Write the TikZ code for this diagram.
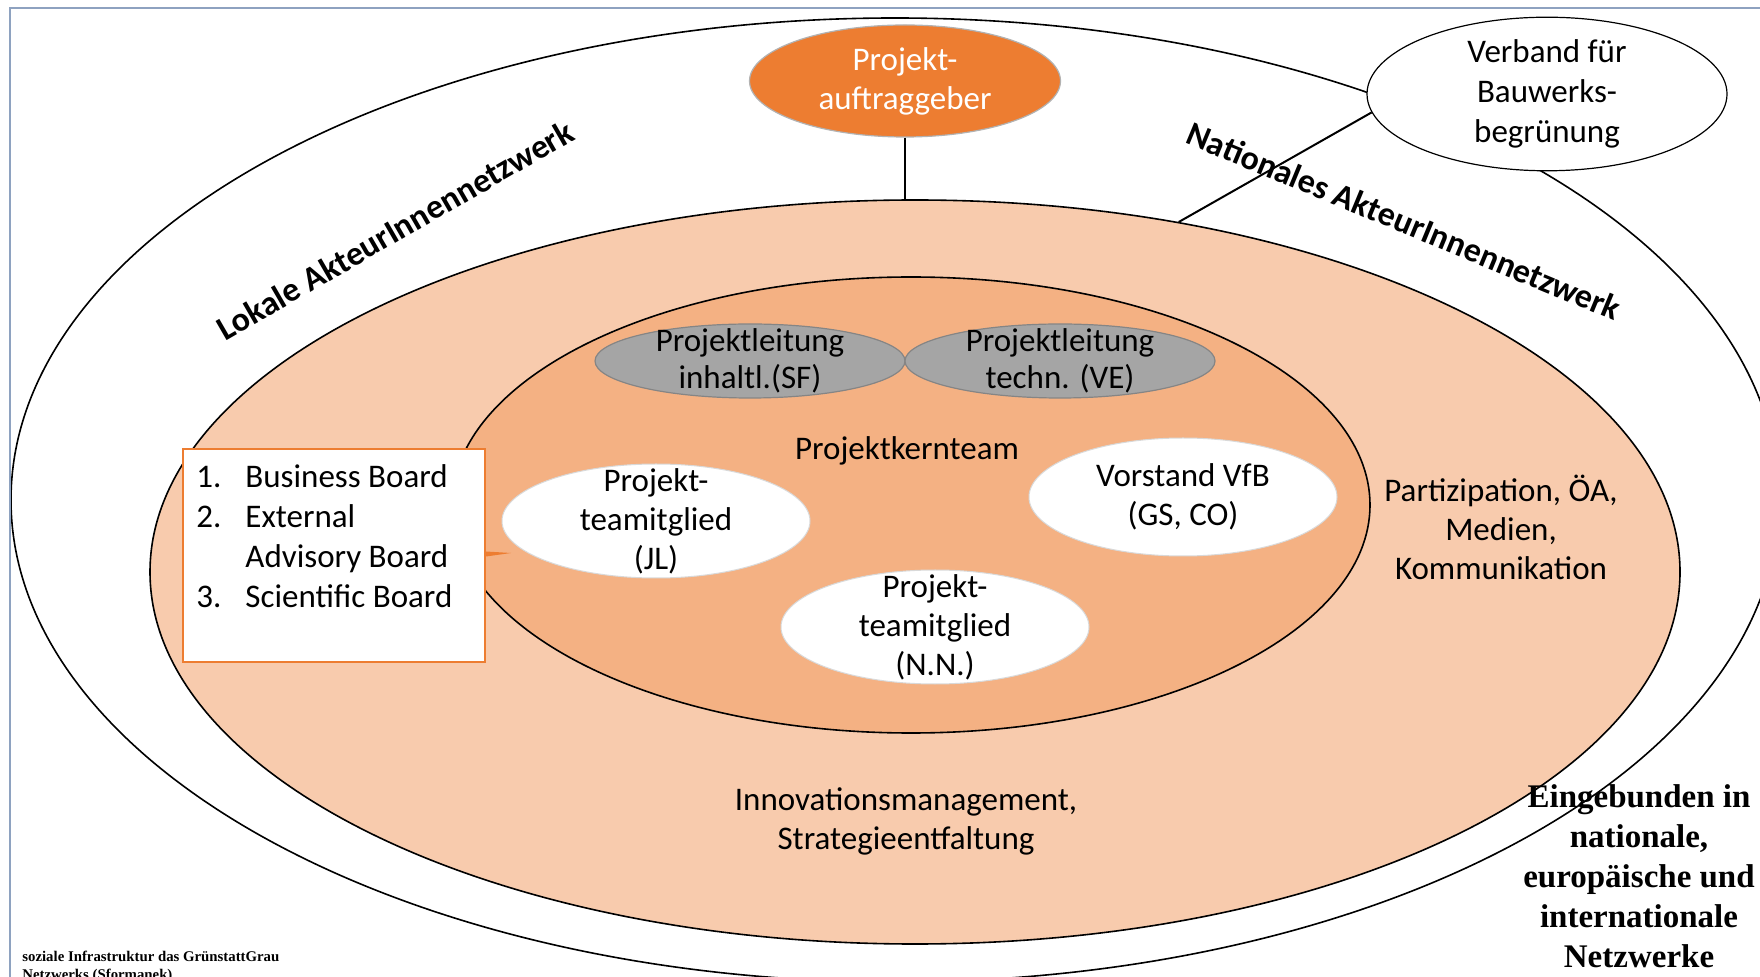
\documentclass[tikz,border=0pt]{standalone}
\usepackage{fontspec}
\setmainfont{Carlito}
\newfontfamily\serifb{Liberation Serif}
\usetikzlibrary{shapes.geometric}
\definecolor{peach}{HTML}{F8CBAD}
\definecolor{apricot}{HTML}{F4B183}
\definecolor{orangeA}{HTML}{ED7D31}
\definecolor{grayN}{HTML}{A5A5A5}
\definecolor{grayB}{HTML}{858585}
\definecolor{frameC}{HTML}{8EA2C0}
\begin{document}
\begin{tikzpicture}[x=0.5pt,y=-0.5pt,
  ring/.style={ellipse, draw=black, line width=0.8pt, inner sep=0pt},
  txt/.style={font=\fontsize{16.5}{19.5}\selectfont, align=center, inner sep=0pt},
  rot/.style={font=\fontsize{17}{20}\selectfont\bfseries, inner sep=0pt},
  grayell/.style={ellipse, fill=grayN, draw=grayB, line width=0.6pt, inner sep=0pt,
    minimum width=155pt, minimum height=37pt},
  whiteell/.style={ellipse, fill=white, draw=gray!30, line width=0.5pt, inner sep=0pt,
    minimum width=154pt, minimum height=57pt},
  link/.style={draw=black, line width=1pt}
]
\useasboundingbox (0,0) rectangle (1760,977);
\begin{scope}
\clip (0,0) rectangle (1760,977);
\fill[white] (0,0) rectangle (1760,977);
% rings
\node[ring, fill=white, minimum width=884pt, minimum height=482pt] (outer) at (895,500) {};
\node[ring, fill=peach, minimum width=765pt, minimum height=372pt] (mid) at (915,572) {};
\node[ring, fill=apricot, minimum width=459pt, minimum height=228pt] (inner) at (911,505) {};

% top nodes
\node[ellipse, fill=orangeA, draw=gray!60, line width=0.6pt, inner sep=0pt,
  minimum width=155.5pt, minimum height=56pt, align=center, text=white,
  font=\fontsize{16.5}{19.5}\selectfont] (pa) at (905,81) {Projekt-\\auftraggeber};
\node[ellipse, fill=white, draw=black, line width=0.6pt, inner sep=0pt,
  minimum width=180pt, minimum height=75pt, align=center,
  font=\fontsize{16.5}{20}\selectfont] (vb) at (1547,94) {Verband für\\Bauwerks-\\begrünung};

\draw[link] (pa.south) -- (pa.south |- mid.north);
\draw[link] (vb.186) -- (mid.53.6);

% ring labels
\node[rot, rotate=30] (lokal) at (395,230) {Lokale AkteurInnennetzwerk};
\node[rot, rotate=-22.5] (natio) at (1404,221) {Nationales AkteurInnennetzwerk};

% inner team
\node[grayell] (plsf) at (750,361) {};
\node[grayell] (plve) at (1060,361) {};
\node[txt, font=\fontsize{16.5}{18.5}\selectfont] (plsft) at (plsf) {Projektleitung\\inhaltl.(SF)};
\node[txt, font=\fontsize{16.5}{18.5}\selectfont] (plvet) at (plve) {Projektleitung\\techn. (VE)};
\node[txt] (kern) at (907,451) {Projektkernteam};
\node[whiteell] (jl) at (656,521) {};
\node[whiteell, minimum height=59pt] (vfb) at (1183,497) {};
\node[whiteell] (nn) at (935,627) {};
\node[txt] (jlt) at (jl) {Projekt-\\teamitglied\\(JL)};
\node[txt] (vfbt) at (vfb) {Vorstand VfB\\(GS, CO)};
\node[txt] (nnt) at (nn) {Projekt-\\teamitglied\\(N.N.)};

% board box
\node[draw=orangeA, fill=white, line width=1pt, inner sep=0pt,
  minimum width=151pt, minimum height=106.5pt] (bb) at (334,555.5) {};
\coordinate (tip) at (511,553);
\fill[orangeA] ([yshift=2pt]bb.east) -- (tip) -- ([yshift=-0.5pt]bb.east) -- cycle;
\node[anchor=north west, inner sep=0pt, font=\fontsize{16.5}{20}\selectfont] (bblist) at (196,459)
  {\begin{tabular}{@{}l@{\hspace{12pt}}l@{}}
   1. & Business Board\\
   2. & External\\
      & Advisory Board\\
   3. & Scientific Board
   \end{tabular}};

% ring texts
\node[txt] (parti) at (1501,527) {Partizipation, ÖA,\\Medien,\\Kommunikation};
\node[txt] (innov) at (906,821) {Innovationsmanagement,\\Strategieentfaltung};
\node[inner sep=0pt, align=center, font=\serifb\bfseries\fontsize{16.5}{20}\selectfont] (eing) at (1639,876)
  {Eingebunden in\\nationale,\\europäische und\\internationale\\Netzwerke};

% footer
\node[anchor=north west, inner sep=0pt, align=left, font=\serifb\bfseries\fontsize{7.4}{9}\selectfont] (foot) at (22,951)
  {soziale Infrastruktur das GrünstattGrau\\Netzwerks (Sformanek)};

% frame
\draw[frameC, line width=1.2pt] (10,977) -- (10,8) -- (1760,8);
\end{scope}
\end{tikzpicture}
\end{document}
